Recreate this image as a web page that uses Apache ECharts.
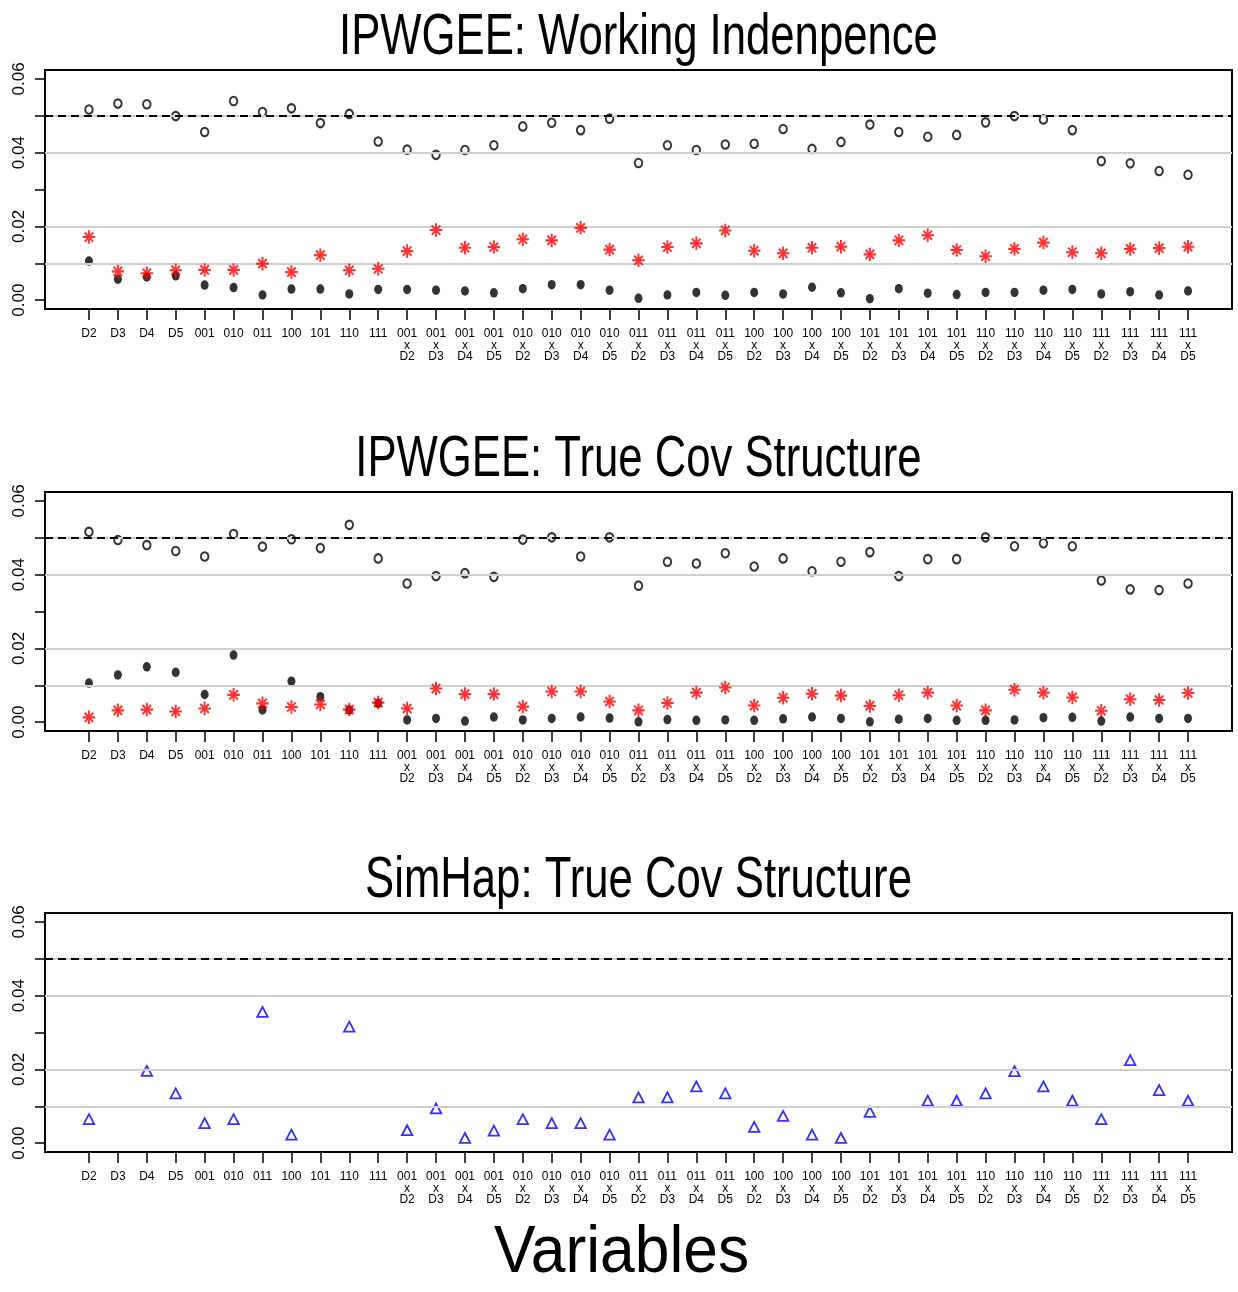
<!DOCTYPE html>
<html>
<head>
<meta charset="utf-8">
<script src="https://cdn.jsdelivr.net/npm/echarts@6/dist/echarts.min.js"></script>
<style>
html,body{margin:0;padding:0;background:#fff;}
#chart{width:1238px;height:1292px;}
</style>
</head>
<body>
<div id="chart"></div>
<script>
// ---------------- DATA ----------------
const categories = [
  'D2','D3','D4','D5','001','010','011','100','101','110','111',
  '001\nx\nD2','001\nx\nD3','001\nx\nD4','001\nx\nD5',
  '010\nx\nD2','010\nx\nD3','010\nx\nD4','010\nx\nD5',
  '011\nx\nD2','011\nx\nD3','011\nx\nD4','011\nx\nD5',
  '100\nx\nD2','100\nx\nD3','100\nx\nD4','100\nx\nD5',
  '101\nx\nD2','101\nx\nD3','101\nx\nD4','101\nx\nD5',
  '110\nx\nD2','110\nx\nD3','110\nx\nD4','110\nx\nD5',
  '111\nx\nD2','111\nx\nD3','111\nx\nD4','111\nx\nD5'
];
const panelTitles = ['IPWGEE: Working Indenpence', 'IPWGEE: True Cov Structure', 'SimHap: True Cov Structure'];
const xAxisTitle = 'Variables';
const yTicks = [0, 0.01, 0.02, 0.03, 0.04, 0.05, 0.06];
const yTickLabels = [0, 0.02, 0.04, 0.06];
const nominalLevel = 0.05;
const greyLevels = [0.0105, 0.0235, 0.0365, 0.0495];

// Panel 1: IPWGEE working independence
const p1Open = [0.0517,0.0533,0.0531,0.0499,0.0456,0.0540,0.0510,0.0520,0.0480,0.0505,0.0430,
  0.0408,0.0394,0.0407,0.0420, 0.0471,0.0481,0.0461,0.0492, 0.0372,0.0420,0.0407,0.0422,
  0.0424,0.0464,0.0410,0.0429, 0.0476,0.0456,0.0443,0.0448, 0.0482,0.0499,0.0490,0.0461,
  0.0377,0.0371,0.0350,0.0340];
const p1Filled = [0.0106,0.0057,0.0063,0.0066,0.0041,0.0034,0.0014,0.0030,0.0030,0.0017,0.0029,
  0.0029,0.0027,0.0025,0.0020, 0.0031,0.0042,0.0042,0.0027, 0.0005,0.0014,0.0021,0.0013,
  0.0021,0.0017,0.0035,0.0020, 0.0004,0.0031,0.0019,0.0015, 0.0021,0.0021,0.0027,0.0029,
  0.0017,0.0023,0.0014,0.0025];
const p1Star = [0.0171,0.0078,0.0073,0.0081,0.0082,0.0082,0.0099,0.0076,0.0122,0.0081,0.0085,
  0.0133,0.0190,0.0142,0.0144, 0.0165,0.0162,0.0196,0.0137, 0.0108,0.0144,0.0154,0.0189,
  0.0134,0.0127,0.0142,0.0145, 0.0124,0.0162,0.0176,0.0136, 0.0119,0.0139,0.0156,0.0130,
  0.0127,0.0139,0.0141,0.0145];

// Panel 2: IPWGEE true covariance structure
const p2Open = [0.0516,0.0494,0.0480,0.0464,0.0449,0.0510,0.0476,0.0496,0.0472,0.0535,0.0444,
  0.0376,0.0396,0.0404,0.0394, 0.0495,0.0501,0.0449,0.0501, 0.0370,0.0435,0.0430,0.0458,
  0.0422,0.0444,0.0409,0.0435, 0.0461,0.0396,0.0442,0.0442, 0.0501,0.0477,0.0485,0.0477,
  0.0384,0.0360,0.0358,0.0376];
const p2Filled = [0.0106,0.0128,0.0150,0.0135,0.0075,0.0182,0.0033,0.0111,0.0069,0.0033,0.0051,
  0.0006,0.0010,0.0003,0.0014, 0.0006,0.0010,0.0014,0.0011, 0.0001,0.0007,0.0005,0.0006,
  0.0005,0.0009,0.0014,0.0010, 0.0001,0.0008,0.0010,0.0005, 0.0005,0.0006,0.0012,0.0013,
  0.0003,0.0014,0.0010,0.0010];
const p2Star = [0.0013,0.0032,0.0034,0.0029,0.0037,0.0074,0.0051,0.0041,0.0048,0.0034,0.0053,
  0.0037,0.0091,0.0076,0.0076, 0.0042,0.0083,0.0083,0.0056, 0.0032,0.0052,0.0080,0.0094,
  0.0045,0.0066,0.0077,0.0072, 0.0044,0.0073,0.0080,0.0045, 0.0032,0.0088,0.0080,0.0067,
  0.0031,0.0062,0.0060,0.0079];

// Panel 3: SimHap true covariance structure (null = not shown)
const p3Tri = [0.0065,null,0.0196,0.0135,0.0054,0.0065,0.0356,0.0023,null,0.0316,null,
  0.0035,0.0094,0.0014,0.0034, 0.0065,0.0054,0.0054,0.0023, 0.0124,0.0124,0.0154,0.0135,
  0.0044,0.0074,0.0023,0.0014, 0.0085,null,0.0115,0.0115, 0.0135,0.0195,0.0154,0.0115,
  0.0065,0.0225,0.0144,0.0115];

// ---------------- CHART ----------------
const chart = echarts.init(document.getElementById('chart'), null, {renderer: 'canvas'});
const SANS = "'Liberation Sans', Arial, Helvetica, sans-serif";
const n = categories.length;
const xPad = (n - 1) * 0.04;
const yPad = (yTicks[yTicks.length - 1] - yTicks[0]) * 0.04;
const gridTops = [70, 492, 913];
const gridH = 239;
const titleY = [38, 460, 881];

const toPts = arr => arr.map((v, i) => v == null ? null : [i, v]).filter(d => d);
const STAR = 'path://M5 0L5 10M0 5L10 5M1.6 1.6L8.4 8.4M8.4 1.6L1.6 8.4';

const grids = [], xAxes = [], yAxes = [], series = [], texts = [];
gridTops.forEach((top, g) => {
  grids.push({left: 45, top: top, width: 1187, height: gridH, show: true,
    borderColor: '#000', borderWidth: 2, backgroundColor: 'transparent'});
  xAxes.push({type: 'value', gridIndex: g, min: -xPad, max: (n - 1) + xPad,
    axisLine: {show: false, onZero: false}, splitLine: {show: false},
    axisTick: {show: true, inside: false, length: 11, customValues: categories.map((c, i) => i),
      lineStyle: {color: '#000', width: 1.5}},
    axisLabel: {show: true, customValues: categories.map((c, i) => i), margin: 19,
      formatter: v => categories[Math.round(v)] || '',
      fontFamily: SANS, fontSize: 12, lineHeight: 11.5, color: '#000', align: 'center'}});
  yAxes.push({type: 'value', gridIndex: g, min: yTicks[0] - yPad, max: yTicks[yTicks.length - 1] + yPad,
    axisLine: {show: false, onZero: false}, splitLine: {show: false},
    axisTick: {show: true, length: 10, customValues: yTicks, lineStyle: {color: '#000', width: 1.5}},
    axisLabel: {show: true, customValues: yTickLabels, rotate: 90, margin: 17,
      formatter: v => v.toFixed(2), fontFamily: SANS, fontSize: 17, color: '#000'}});
  texts.push({type: 'text', x: 638.5, y: titleY[g], scaleX: 0.753, silent: true,
    style: {text: panelTitles[g], font: "normal 58px 'Liberation Sans', Arial, sans-serif",
      fill: '#000', textAlign: 'center', textVerticalAlign: 'middle'}});
});
texts.push({type: 'text', x: 621.5, y: 1254, scaleX: 0.944, silent: true,
  style: {text: xAxisTitle, font: "normal 66px 'Liberation Sans', Arial, sans-serif",
    fill: '#000', textAlign: 'center', textVerticalAlign: 'middle'}});

const refMarkLine = {
  silent: true, symbol: 'none', label: {show: false}, animation: false,
  data: greyLevels.map(v => ({yAxis: v, lineStyle: {color: '#d0d0d0', width: 2, type: 'solid'}}))
        .concat([{yAxis: nominalLevel, lineStyle: {color: '#000', width: 2, type: [8, 5]}}])
};

const openCircle = (data, g) => ({type: 'scatter', xAxisIndex: g, yAxisIndex: g, data: toPts(data),
  symbol: 'circle', symbolSize: [7.5, 8.5], markLine: refMarkLine,
  itemStyle: {color: 'transparent', borderColor: '#000', borderWidth: 2}, z: 3});
const filledDot = (data, g) => ({type: 'scatter', xAxisIndex: g, yAxisIndex: g, data: toPts(data),
  symbol: 'circle', symbolSize: [8, 9.5], itemStyle: {color: '#000'}, z: 4});
const stars = (data, g) => ({type: 'scatter', xAxisIndex: g, yAxisIndex: g, data: toPts(data),
  symbol: STAR, symbolSize: [12.5, 13.5],
  itemStyle: {color: 'transparent', borderColor: '#ff0000', borderWidth: 2}, z: 5});

series.push(openCircle(p1Open, 0), filledDot(p1Filled, 0), stars(p1Star, 0));
series.push(openCircle(p2Open, 1), filledDot(p2Filled, 1), stars(p2Star, 1));
series.push({type: 'scatter', xAxisIndex: 2, yAxisIndex: 2, data: toPts(p3Tri),
  symbol: 'triangle', symbolSize: [10.5, 10], markLine: refMarkLine,
  itemStyle: {color: 'transparent', borderColor: '#0000ff', borderWidth: 1.8}, z: 3});

chart.setOption({
  animation: false,
  backgroundColor: '#fff',
  graphic: texts,
  grid: grids,
  xAxis: xAxes,
  yAxis: yAxes,
  series: series
});
</script>
</body>
</html>
